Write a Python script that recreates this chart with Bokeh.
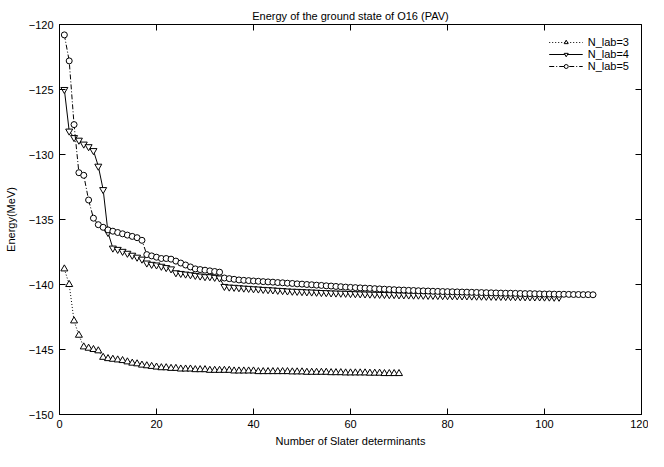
from bokeh.plotting import figure
from bokeh.models import Range1d, LinearAxis, FixedTicker, Legend, LegendItem
from bokeh.embed import file_html
from bokeh.resources import INLINE

title_text = "Energy of the ground state of O16 (PAV)"
x_label = "Number of Slater determinants"
y_label = "Energy(MeV)"
series_names = ["N_lab=3", "N_lab=4", "N_lab=5"]
x_ticks = [0, 20, 40, 60, 80, 100, 120]
y_ticks = [-150, -145, -140, -135, -130, -125, -120]

e_nlab3 = [
    -138.8, -140.0, -142.8, -143.9, -144.8, -144.9, -145.0, -145.1, -145.6, -145.7,
    -145.75, -145.8, -145.85, -145.95, -146.05, -146.1, -146.2, -146.25, -146.3, -146.35,
    -146.4, -146.4, -146.45, -146.45, -146.5, -146.5, -146.5, -146.55, -146.55, -146.55,
    -146.6, -146.6, -146.6, -146.6, -146.6, -146.65, -146.65, -146.65, -146.65, -146.65,
    -146.7, -146.7, -146.7, -146.7, -146.7, -146.7, -146.7, -146.72, -146.72, -146.72,
    -146.75, -146.75, -146.75, -146.75, -146.75, -146.78, -146.78, -146.78, -146.8, -146.8,
    -146.8, -146.8, -146.8, -146.82, -146.82, -146.82, -146.85, -146.85, -146.85, -146.85,
]
e_nlab4 = [
    -125.0, -128.2, -128.7, -128.9, -129.2, -129.4, -129.7, -130.9, -132.7, -136.0,
    -137.2, -137.3, -137.45, -137.6, -137.75, -137.9, -138.05, -138.35, -138.45, -138.5,
    -138.6, -138.7, -138.8, -139.1, -139.15, -139.2, -139.25, -139.3, -139.35, -139.4,
    -139.4, -139.45, -139.5, -140.15, -140.2, -140.22, -140.25, -140.28, -140.3, -140.33,
    -140.35, -140.38, -140.4, -140.42, -140.45, -140.47, -140.5, -140.52, -140.53, -140.55,
    -140.57, -140.58, -140.6, -140.62, -140.63, -140.65, -140.66, -140.67, -140.68, -140.7,
    -140.71, -140.72, -140.73, -140.74, -140.75, -140.76, -140.77, -140.78, -140.78, -140.8,
    -140.8, -140.81, -140.82, -140.82, -140.83, -140.84, -140.84, -140.85, -140.86, -140.86,
    -140.87, -140.87, -140.88, -140.88, -140.89, -140.9, -140.9, -140.91, -140.91, -140.92,
    -140.92, -140.93, -140.93, -140.94, -140.94, -140.95, -140.95, -140.96, -140.96, -140.97,
    -140.97, -140.98, -140.98,
]
e_nlab5 = [
    -120.8, -122.8, -127.7, -131.4, -131.6, -133.5, -134.9, -135.4, -135.6, -135.8,
    -135.9, -136.0, -136.1, -136.2, -136.3, -136.4, -136.6, -137.7, -137.8, -137.9,
    -138.0, -138.0, -138.05, -138.2, -138.35, -138.5, -138.65, -138.8, -138.85, -138.9,
    -138.95, -139.0, -139.05, -139.5, -139.55, -139.6, -139.65, -139.68, -139.7, -139.73,
    -139.75, -139.78, -139.8, -139.82, -139.85, -139.87, -139.9, -139.92, -139.95, -139.97,
    -140.0, -140.02, -140.05, -140.07, -140.1, -140.12, -140.15, -140.17, -140.2, -140.22,
    -140.24, -140.26, -140.28, -140.3, -140.32, -140.34, -140.36, -140.38, -140.4, -140.42,
    -140.43, -140.45, -140.46, -140.48, -140.49, -140.5, -140.52, -140.53, -140.54, -140.55,
    -140.56, -140.57, -140.58, -140.59, -140.6, -140.61, -140.62, -140.63, -140.64, -140.65,
    -140.66, -140.67, -140.67, -140.68, -140.69, -140.7, -140.7, -140.71, -140.72, -140.73,
    -140.73, -140.74, -140.75, -140.75, -140.76, -140.77, -140.77, -140.78, -140.78, -140.79,
]
n_nlab3 = list(range(1, len(e_nlab3) + 1))
n_nlab4 = list(range(1, len(e_nlab4) + 1))
n_nlab5 = list(range(1, len(e_nlab5) + 1))

FONT = "Liberation Sans"

p = figure(width=648, height=451, output_backend="svg", toolbar_location=None,
           x_range=Range1d(0, 120), y_range=Range1d(-150, -120),
           min_border_left=59, min_border_right=7, min_border_top=24, min_border_bottom=37)
p.title.text = title_text
p.title.align = "center"
p.title.text_font = FONT
p.title.text_font_size = "11px"
p.title.text_font_style = "normal"
p.title.text_color = "black"
p.title.offset = 0
p.title.standoff = 6
p.grid.visible = False
p.outline_line_color = "black"
p.outline_line_width = 1
p.background_fill_color = "white"
p.border_fill_color = "white"

for ax, ticks in ((p.xaxis[0], x_ticks), (p.yaxis[0], y_ticks)):
    ax.ticker = FixedTicker(ticks=ticks)
    ax.major_tick_in = 6
    ax.major_tick_out = 0
    ax.major_tick_line_color = "black"
    ax.minor_tick_line_color = None
    ax.axis_line_color = "black"
    ax.major_label_text_font = FONT
    ax.major_label_text_font_size = "11px"
    ax.major_label_text_color = "black"
    ax.axis_label_text_font = FONT
    ax.axis_label_text_font_size = "11px"
    ax.axis_label_text_font_style = "normal"
    ax.axis_label_text_color = "black"
p.xaxis.axis_label = x_label
p.yaxis.axis_label = y_label
p.xaxis.major_label_standoff = 5
p.xaxis.axis_label_standoff = 4
p.yaxis.major_label_standoff = 6
p.yaxis.axis_label_standoff = 9

# mirrored tick marks on the top and right frame edges (no labels)
top_ax = LinearAxis(ticker=FixedTicker(ticks=x_ticks), major_tick_in=6, major_tick_out=0,
                    major_tick_line_color="black", minor_tick_line_color=None,
                    axis_line_color=None, major_label_text_color=None,
                    major_label_text_font_size="0px", major_label_standoff=0)
right_ax = LinearAxis(ticker=FixedTicker(ticks=y_ticks), major_tick_in=6, major_tick_out=0,
                      major_tick_line_color="black", minor_tick_line_color=None,
                      axis_line_color=None, major_label_text_color=None,
                      major_label_text_font_size="0px", major_label_standoff=0)
p.add_layout(top_ax, "above")
p.add_layout(right_ax, "right")

l3 = p.line(n_nlab3, e_nlab3, line_color="black", line_width=1, line_dash="1 2")
m3 = p.scatter(n_nlab3, e_nlab3, marker="triangle", size=7, line_color="black",
               fill_color="white", line_width=1)
l4 = p.line(n_nlab4, e_nlab4, line_color="black", line_width=1)
m4 = p.scatter(n_nlab4, e_nlab4, marker="inverted_triangle", size=7, line_color="black",
               fill_color="white", line_width=1)
l5 = p.line(n_nlab5, e_nlab5, line_color="black", line_width=1, line_dash="5 2 1 2")
m5 = p.scatter(n_nlab5, e_nlab5, marker="circle", size=6, line_color="black",
               fill_color="white", line_width=1)

legend = Legend(items=[LegendItem(label=series_names[0], renderers=[l3, m3]),
                       LegendItem(label=series_names[1], renderers=[l4, m4]),
                       LegendItem(label=series_names[2], renderers=[l5, m5])],
                location="top_right", orientation="vertical",
                padding=2, margin=12, spacing=0, glyph_width=34, glyph_height=10,
                label_height=10, label_standoff=5,
                label_text_font=FONT, label_text_font_size="11px",
                label_text_color="black", label_text_line_height=0.9,
                border_line_color=None, background_fill_alpha=0)
p.add_layout(legend, "center")

open("out.html", "w").write(file_html(p, INLINE))
